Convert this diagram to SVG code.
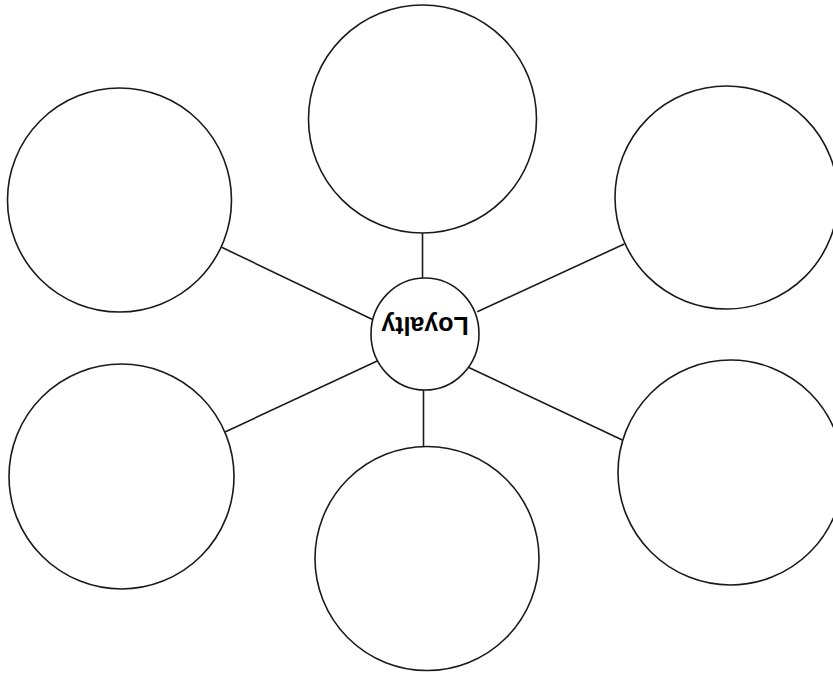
<svg xmlns="http://www.w3.org/2000/svg" width="833" height="675" viewBox="0 0 833 675">
<style>
.node{fill:#fff;stroke:#1a1a1a;stroke-width:1.6}
.conn line{stroke:#1a1a1a;stroke-width:1.6}
.lbl{font-family:"Liberation Sans",Arial,sans-serif;font-size:25px;font-weight:bold;fill:#000;text-anchor:middle}
</style>
<rect width="833" height="675" fill="#fff"/>
<g id="connectors" class="conn">
<line x1="221.7" y1="247.3" x2="372" y2="319.3"/>
<line x1="422.5" y1="233" x2="422.5" y2="278"/>
<line x1="477.3" y1="311.7" x2="624.3" y2="244"/>
<line x1="225" y1="432" x2="377.7" y2="360.7"/>
<line x1="423.5" y1="390" x2="423.5" y2="446.5"/>
<line x1="468.3" y1="367.3" x2="622.3" y2="440"/>
</g>
<g id="node-top-left"><circle class="node" cx="119.5" cy="200" r="112"/></g>
<g id="node-top"><circle class="node" cx="422.5" cy="119" r="114"/></g>
<g id="node-top-right"><circle class="node" cx="726.5" cy="197.5" r="111.5"/></g>
<g id="node-bottom-left"><circle class="node" cx="121.5" cy="476.5" r="112.5"/></g>
<g id="node-bottom"><circle class="node" cx="427" cy="558.5" r="112"/></g>
<g id="node-bottom-right"><circle class="node" cx="730.5" cy="472.5" r="112.5"/></g>
<g id="node-center">
<ellipse class="node" cx="425" cy="334" rx="54" ry="56"/>
<text class="lbl" transform="translate(425,317) rotate(180)" x="0" y="0">Loyalty</text>
</g>
</svg>
